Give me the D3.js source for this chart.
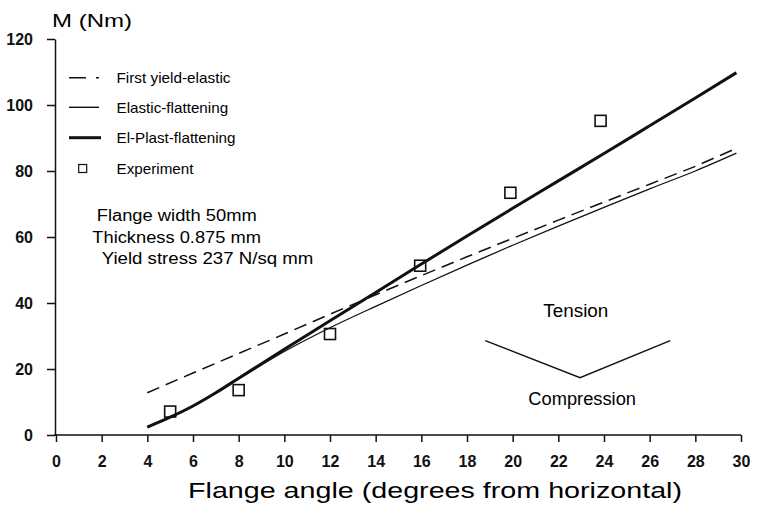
<!DOCTYPE html>
<html>
<head>
<meta charset="utf-8">
<script src="https://cdn.jsdelivr.net/npm/d3@7"></script>
<style>
  html, body { margin: 0; padding: 0; background: #fff; }
  svg { display: block; font-family: "Liberation Sans", Arial, Helvetica, sans-serif; }
  .axis path, .axis line { stroke: #111; stroke-width: 1.5; }
  .axis text { font-size: 16px; font-weight: bold; fill: #111; }
</style>
</head>
<body>
<svg id="chart" width="757" height="505"></svg>
<script>
(function () {
  "use strict";

  // tick labels
  const angleTicks = [0, 2, 4, 6, 8, 10, 12, 14, 16, 18, 20, 22, 24, 26, 28, 30];
  const momentTicks = [0, 20, 40, 60, 80, 100, 120];

  // First yield-elastic (dashed)
  const firstYieldAngle = [4, 6, 8, 10, 12, 14, 16, 18, 20, 22, 24, 26, 28, 29.8];
  const firstYieldMoment = [12.8, 18.8, 24.7, 30.6, 36.6, 42.5, 48.3, 54, 59.6, 65.1, 70.6, 76, 81.4, 86.9];

  // Elastic-flattening (thin)
  const elasticAngle = [4, 6, 8, 10, 12, 14, 16, 18, 20, 22, 24, 26, 28, 29.8];
  const elasticMoment = [2.4, 8.8, 17, 25.3, 32.5, 39, 45.3, 51.5, 57.5, 63.3, 69, 74.6, 80, 85.4];

  // El-Plast-flattening (thick)
  const plastAngle = [4, 5, 6, 7, 8, 10, 12, 14, 16, 18, 20, 22, 24, 26, 28, 29.8];
  const plastMoment = [2.4, 5.4, 8.8, 12.8, 17.2, 26, 34.6, 43.2, 51.8, 60.3, 68.7, 77, 85.3, 93.7, 102.1, 109.8];

  // Experiment
  const expAngle = [5, 8, 12, 15.95, 19.9, 23.85];
  const expMoment = [7.1, 13.6, 30.6, 51.3, 73.4, 95.2];

  // tension / compression sketch
  const sketchAngle = [18.8, 22.95, 26.9];
  const sketchMoment = [28.6, 17.4, 28.6];

  const legendNames = ["First yield-elastic", "Elastic-flattening", "El-Plast-flattening", "Experiment"];
  const noteLines = ["Flange width 50mm", "Thickness 0.875 mm", "Yield stress 237 N/sq mm"];

  const zip = (xs, ys) => xs.map((d, i) => ({ x: d, y: ys[i] }));

  const svg = d3.select("#chart");
  const x = d3.scaleLinear().domain([0, 30]).range([56, 741]);
  const y = d3.scaleLinear().domain([0, 120]).range([435, 39]);

  svg.append("g")
    .attr("class", "axis")
    .attr("transform", `translate(0,${y(0)})`)
    .call(d3.axisBottom(x).tickValues(angleTicks).tickSize(7).tickPadding(14).tickSizeOuter(0))
    .call(g => g.select(".domain").attr("d", `M${x(0) - 2},0H${x(30)}`));

  svg.append("g")
    .attr("class", "axis")
    .attr("transform", `translate(${x(0) - 1},0)`)
    .call(d3.axisLeft(y).tickValues(momentTicks).tickSize(8).tickPadding(14).tickSizeOuter(0));

  const line = d3.line().x(d => x(d.x)).y(d => y(d.y));
  const smooth = d3.line().x(d => x(d.x)).y(d => y(d.y)).curve(d3.curveMonotoneX);

  svg.append("path")
    .datum(zip(firstYieldAngle, firstYieldMoment))
    .attr("d", line)
    .attr("fill", "none")
    .attr("stroke", "#111")
    .attr("stroke-width", 1.5)
    .attr("stroke-dasharray", "13,7");

  svg.append("path")
    .datum(zip(elasticAngle, elasticMoment))
    .attr("d", smooth)
    .attr("fill", "none")
    .attr("stroke", "#111")
    .attr("stroke-width", 1.3);

  svg.append("path")
    .datum(zip(plastAngle, plastMoment))
    .attr("d", smooth)
    .attr("fill", "none")
    .attr("stroke", "#111")
    .attr("stroke-width", 3);

  svg.append("g")
    .selectAll("rect")
    .data(zip(expAngle, expMoment))
    .join("rect")
    .attr("x", d => x(d.x) - 5.5)
    .attr("y", d => y(d.y) - 5.5)
    .attr("width", 11)
    .attr("height", 11)
    .attr("fill", "none")
    .attr("stroke", "#111")
    .attr("stroke-width", 1.6);

  svg.append("path")
    .datum(zip(sketchAngle, sketchMoment))
    .attr("d", line)
    .attr("fill", "none")
    .attr("stroke", "#111")
    .attr("stroke-width", 1.5);

  // legend
  const legend = svg.append("g");
  const rowY = [77.7, 107.3, 137.7, 168.5];
  const textW = [114, 111.6, 119, 77];
  legend.append("line").attr("x1", 69).attr("x2", 99).attr("y1", rowY[0]).attr("y2", rowY[0])
    .attr("stroke", "#111").attr("stroke-width", 1.4).attr("stroke-dasharray", "17,10");
  legend.append("line").attr("x1", 69).attr("x2", 99).attr("y1", rowY[1]).attr("y2", rowY[1])
    .attr("stroke", "#111").attr("stroke-width", 1.4);
  legend.append("line").attr("x1", 69).attr("x2", 101).attr("y1", rowY[2]).attr("y2", rowY[2])
    .attr("stroke", "#111").attr("stroke-width", 3);
  legend.append("rect").attr("x", 78.7).attr("y", rowY[3] - 4).attr("width", 8).attr("height", 8)
    .attr("fill", "none").attr("stroke", "#111").attr("stroke-width", 1.2);
  legend.selectAll("text")
    .data(legendNames)
    .join("text")
    .attr("x", 116.5)
    .attr("y", (d, i) => rowY[i] + 5.5)
    .attr("font-size", 15)
    .attr("textLength", (d, i) => textW[i])
    .attr("lengthAdjust", "spacingAndGlyphs")
    .text(d => d);

  // note
  const noteX = [96.7, 92.3, 101.7];
  const noteY = [220.7, 242.7, 264];
  const noteW = [160, 168.7, 211.6];
  svg.append("g")
    .selectAll("text")
    .data(noteLines)
    .join("text")
    .attr("x", (d, i) => noteX[i])
    .attr("y", (d, i) => noteY[i])
    .attr("font-size", 16)
    .attr("textLength", (d, i) => noteW[i])
    .attr("lengthAdjust", "spacingAndGlyphs")
    .text(d => d);

  svg.append("text").attr("x", 543.3).attr("y", 316.7).attr("font-size", 18)
    .attr("textLength", 65).attr("lengthAdjust", "spacingAndGlyphs").text("Tension");
  svg.append("text").attr("x", 528.3).attr("y", 405).attr("font-size", 18)
    .attr("textLength", 107.7).attr("lengthAdjust", "spacingAndGlyphs").text("Compression");

  // axis titles
  svg.append("text").attr("x", 52).attr("y", 27).attr("font-size", 19)
    .attr("textLength", 80).attr("lengthAdjust", "spacingAndGlyphs").text("M (Nm)");
  svg.append("text").attr("x", 188).attr("y", 498).attr("font-size", 22)
    .attr("textLength", 494).attr("lengthAdjust", "spacingAndGlyphs")
    .text("Flange angle (degrees from horizontal)");
})();
</script>
</body>
</html>
